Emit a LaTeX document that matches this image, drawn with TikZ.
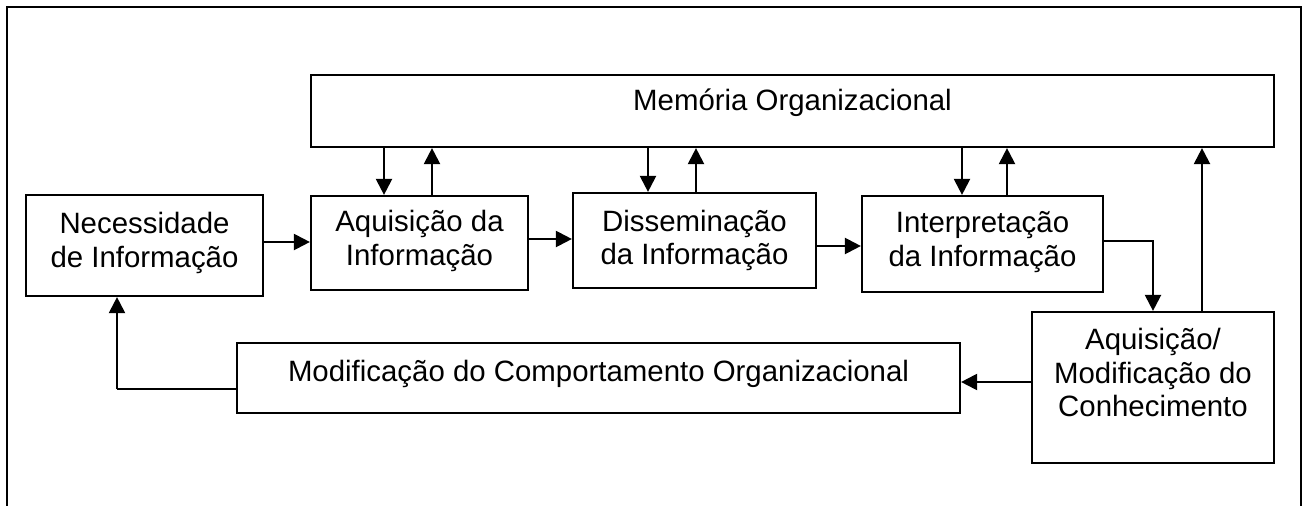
\documentclass[tikz,border=0pt]{standalone}
\usepackage{fontspec}
\setmainfont{Liberation Sans}
\usetikzlibrary{arrows.meta}
\begin{document}
\begin{tikzpicture}[x=1pt,y=-1pt,
  box/.style={draw, line width=2.2pt, inner sep=0pt},
  lbl/.style={align=center, inner sep=0pt, font=\fontsize{29.4}{33.5}\selectfont},
  arr/.style={line width=2.2pt, -{Triangle[length=16pt,width=16pt]}},
  ln/.style={line width=2.2pt}]
\useasboundingbox (0,0) rectangle (1304,506);
% outer frame (open at bottom)
\draw[line width=2.6pt] (7,506) -- (7,7) -- (1301,7) -- (1301,506);
% boxes
\node[box, minimum width=963pt, minimum height=72pt] (mem) at (792.5,111) {};
\node[box, minimum width=237pt, minimum height=101pt] (nec) at (144.5,245.5) {};
\node[box, minimum width=217pt, minimum height=94pt] (aq) at (419.5,243) {};
\node[box, minimum width=243pt, minimum height=95pt] (dis) at (694.5,240.5) {};
\node[box, minimum width=241pt, minimum height=96pt] (int) at (982.5,244) {};
\node[box, minimum width=242pt, minimum height=151pt] (aqmod) at (1153,387.5) {};
\node[box, minimum width=723pt, minimum height=70pt] (modc) at (598.5,378) {};
% texts
\node[lbl, yshift=8.5pt] (memt) at (mem.center) {Memória Organizacional};
\node[lbl, yshift=2.5pt] (nect) at (nec.center) {Necessidade\\de Informação};
\node[lbl, yshift=2pt] (aqt) at (aq.center) {Aquisição da\\Informação};
\node[lbl] (dist) at (dis.center) {Disseminação\\da Informação};
\node[lbl, yshift=2pt] (intt) at (int.center) {Interpretação\\da Informação};
\node[lbl, yshift=15pt] (aqmodt) at (aqmod.center) {Aquisição/\\Modificação do\\Conhecimento};
\node[lbl, yshift=4.5pt] (modct) at (modc.center) {Modificação do Comportamento Organizacional};
% connectors in the chain
\draw[arr] ([yshift=3.5pt]nec.east) -- ([yshift=3.5pt]nec.east -| aq.west);
\draw[arr] ([yshift=4pt]aq.east) -- ([yshift=4pt]aq.east -| dis.west);
\draw[arr] ([yshift=-5.5pt]dis.east) -- ([yshift=-5.5pt]dis.east -| int.west);
\coordinate (c1) at ([yshift=3pt]int.east -| aqmod.north);
\draw[ln] ([yshift=3pt]int.east) -- ([xshift=1pt]c1);
\draw[arr] (c1) -- (aqmod.north);
\draw[arr] ([xshift=49pt]aqmod.north) -- ([xshift=49pt]aqmod.north |- mem.south);
\draw[arr] ([yshift=5.5pt]aqmod.west) -- ([yshift=5.5pt]aqmod.west -| modc.east);
\coordinate (c2) at (117,389);
\draw[ln] ([yshift=-11pt]modc.west) -- (c2);
\draw[arr] (c2) -- (c2 |- nec.south);
% memory exchanges
\draw[arr] (mem.south -| 384,0) -- (aq.north -| 384,0);
\draw[arr] (aq.north -| 432,0) -- (mem.south -| 432,0);
\draw[arr] (mem.south -| 648,0) -- (dis.north -| 648,0);
\draw[arr] (dis.north -| 696,0) -- (mem.south -| 696,0);
\draw[arr] (mem.south -| 962,0) -- (int.north -| 962,0);
\draw[arr] (int.north -| 1007,0) -- (mem.south -| 1007,0);
\end{tikzpicture}
\end{document}
